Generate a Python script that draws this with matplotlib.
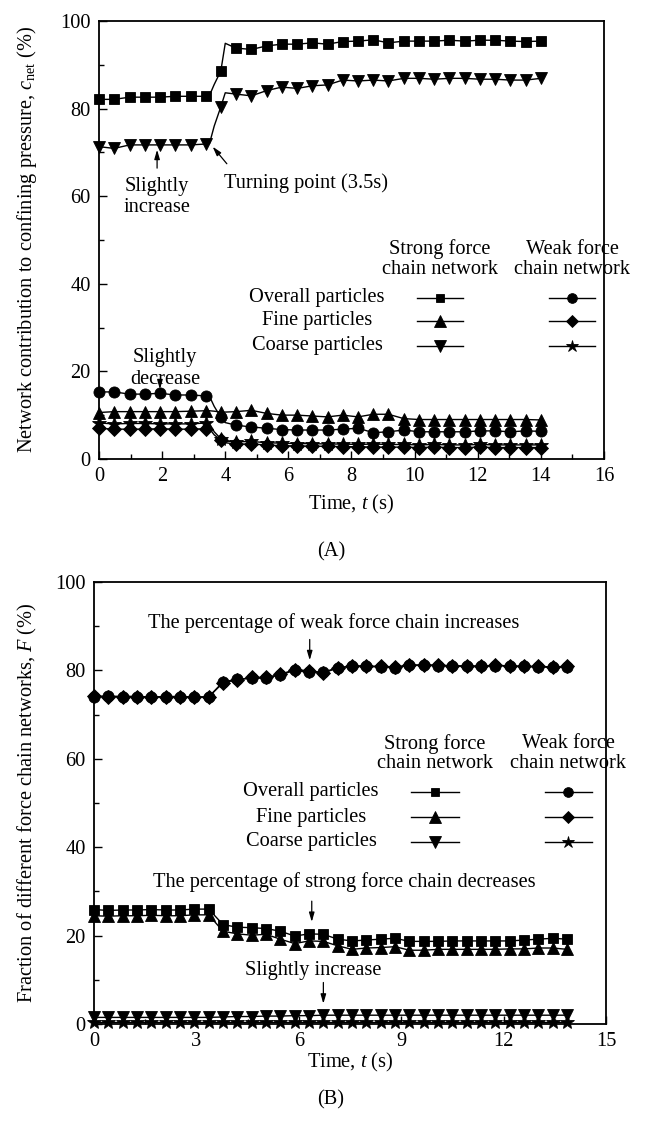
import matplotlib
matplotlib.use("Agg")
import matplotlib.pyplot as plt
from matplotlib.lines import Line2D
from matplotlib.ticker import MultipleLocator

plt.rcParams['font.family'] = 'Liberation Serif'
plt.rcParams['mathtext.fontset'] = 'custom'
plt.rcParams['mathtext.rm'] = 'Liberation Serif'
plt.rcParams['mathtext.it'] = 'Liberation Serif:italic'

# ---- (A) network contribution to confining pressure ----
# extra knots at 3.5, 3.65 and 4.0 s carry the shape of the jump, no markers there
t_a = [0, 0.48, 0.97, 1.45, 1.93, 2.41, 2.9, 3.38, 3.5, 3.65, 3.86, 4.0, 4.34,
       4.83, 5.31, 5.79, 6.28, 6.76, 7.24, 7.72, 8.21, 8.69, 9.17, 9.66, 10.14,
       10.62, 11.1, 11.59, 12.07, 12.55, 13.03, 13.52, 14.0]
knots_a = [8, 9, 11]

overall_strong_a = [82.1, 82.1, 82.6, 82.6, 82.6, 82.8, 82.8, 82.8, 83.0, 85.5, 88.6, 94.9,
                    93.8, 93.5, 94.3, 94.7, 94.7, 95.0, 94.7, 95.3, 95.4, 95.7, 95.0, 95.4,
                    95.4, 95.4, 95.6, 95.4, 95.6, 95.6, 95.4, 95.3, 95.4]
coarse_strong_a = [71.3, 70.9, 71.7, 71.7, 71.7, 71.7, 71.7, 71.9, 72.0, 76.0, 80.4, 83.6,
                   83.3, 82.9, 84.1, 84.9, 84.6, 85.2, 85.4, 86.5, 86.3, 86.5, 86.3, 86.9,
                   86.9, 86.7, 86.9, 86.9, 86.7, 86.7, 86.5, 86.5, 86.9]
fine_strong_a = [10.6, 10.8, 10.8, 10.8, 10.8, 10.8, 10.9, 11.0, 11.0, 10.9, 10.7, 10.7,
                 10.8, 11.1, 10.4, 10.0, 10.0, 9.8, 9.6, 10.0, 9.6, 10.2, 10.2, 9.2,
                 9.0, 9.0, 9.0, 9.0, 9.0, 9.0, 9.0, 9.0, 8.9]
overall_weak_a = [15.3, 15.3, 14.8, 14.8, 15.0, 14.6, 14.6, 14.4, 14.3, 12.0, 9.5, 8.3,
                  7.7, 7.3, 7.0, 6.7, 6.6, 6.6, 6.6, 6.8, 7.0, 6.0, 6.2, 6.6,
                  6.2, 6.2, 6.2, 6.2, 6.4, 6.4, 6.2, 6.4, 6.3]
fine_weak_a = [7.0, 6.8, 6.8, 6.8, 6.9, 6.8, 6.8, 6.9, 6.9, 5.5, 4.3, 3.7,
               3.4, 3.4, 3.2, 3.0, 3.0, 2.9, 2.9, 2.8, 2.8, 2.7, 2.7, 2.7,
               2.6, 2.7, 2.6, 2.6, 2.7, 2.6, 2.6, 2.6, 2.6]
coarse_weak_a = [8.2, 8.0, 8.1, 8.1, 8.0, 8.0, 8.0, 8.2, 8.1, 6.2, 4.6, 4.1,
                 3.9, 4.0, 3.7, 3.6, 3.5, 3.5, 3.4, 3.4, 3.3, 3.4, 3.3, 3.3,
                 3.2, 3.3, 3.2, 3.2, 3.3, 3.2, 3.2, 3.2, 3.2]

# ---- (B) fraction of strong / weak force chain networks ----
t_b = [0, 0.42, 0.84, 1.26, 1.68, 2.1, 2.52, 2.94, 3.36, 3.78, 4.2, 4.62, 5.04,
       5.46, 5.88, 6.3, 6.72, 7.14, 7.56, 7.98, 8.4, 8.82, 9.24, 9.66, 10.08,
       10.5, 10.92, 11.34, 11.76, 12.18, 12.6, 13.02, 13.44, 13.86]

overall_strong_b = [25.9, 25.7, 25.8, 25.8, 25.9, 25.8, 25.8, 26.0, 26.0, 22.5, 21.9, 21.8,
                    21.6, 21.0, 19.9, 20.4, 20.3, 19.2, 18.8, 19.0, 19.2, 19.4, 18.7, 18.7,
                    18.7, 18.8, 18.8, 18.8, 18.8, 18.8, 19.0, 19.2, 19.4, 19.2]
fine_strong_b = [24.5, 24.4, 24.5, 24.5, 24.6, 24.5, 24.5, 24.7, 24.7, 21.0, 20.4, 20.1,
                 20.3, 19.2, 18.2, 18.8, 18.7, 17.7, 16.9, 17.2, 17.3, 17.5, 16.7, 16.7,
                 16.9, 16.9, 16.9, 16.9, 16.9, 17.0, 17.0, 17.2, 17.2, 16.9]
coarse_strong_b = [1.5, 1.5, 1.5, 1.5, 1.5, 1.5, 1.5, 1.5, 1.5, 1.6, 1.7, 1.7,
                   1.8, 1.8, 1.9, 1.9, 2.0, 2.0, 2.0, 2.0, 2.0, 2.0, 2.0, 2.0,
                   2.0, 2.0, 2.0, 2.0, 2.0, 2.0, 2.0, 2.0, 2.0, 2.0]
overall_weak_b = [74.1, 74.2, 74.1, 74.1, 74.0, 74.1, 74.1, 74.0, 74.0, 77.4, 78.0, 78.2,
                  78.3, 79.0, 80.0, 79.6, 79.6, 80.6, 81.0, 80.9, 80.8, 80.6, 81.2, 81.2,
                  81.1, 81.1, 81.0, 81.0, 81.1, 81.0, 80.9, 80.8, 80.7, 80.8]
fine_weak_b = [74.2, 74.0, 74.1, 74.1, 74.0, 74.0, 74.0, 74.0, 74.0, 77.2, 77.9, 78.4,
               78.4, 79.1, 80.2, 79.9, 79.5, 80.5, 81.0, 81.0, 80.9, 80.8, 81.2, 81.2,
               81.2, 81.0, 80.9, 80.9, 81.2, 81.0, 80.9, 80.9, 80.8, 80.9]
coarse_weak_b = [0.5, 0.5, 0.5, 0.5, 0.5, 0.5, 0.5, 0.5, 0.5, 0.5, 0.5, 0.5,
                 0.5, 0.5, 0.5, 0.5, 0.5, 0.5, 0.5, 0.5, 0.5, 0.5, 0.5, 0.5,
                 0.5, 0.5, 0.5, 0.5, 0.5, 0.5, 0.5, 0.5, 0.5, 0.5]

row_labels = ['Overall particles', 'Fine particles', 'Coarse particles']
strong_markers = ['s', '^', 'v']
weak_markers = ['o', 'D', '*']
marker_size = {'s': 7.3, '^': 9, 'v': 9, 'o': 8, 'D': 6.8, '*': 10}

FS = 14.7
ARROW = dict(arrowstyle='-|>,head_length=0.55,head_width=0.16', color='k', lw=0.9,
             shrinkA=0, shrinkB=0)

fig = plt.figure(figsize=(6.54, 11.21), dpi=100)
ax1 = fig.add_axes([0.1514, 0.5906, 0.7721, 0.3907])
ax2 = fig.add_axes([0.1437, 0.0865, 0.7829, 0.3943])


def draw_series(ax, t, y, m, every=None):
    ax.plot(t, y, color='k', lw=1.0, marker=m, ms=marker_size[m], mfc='k', mec='k',
            mew=0.6, markevery=every, clip_on=False, zorder=3)


def style_axes(ax, xmax, xmajor, xminor):
    ax.set_xlim(0, xmax)
    ax.set_ylim(0, 100)
    ax.xaxis.set_major_locator(MultipleLocator(xmajor))
    ax.xaxis.set_minor_locator(MultipleLocator(xminor))
    ax.yaxis.set_major_locator(MultipleLocator(20))
    ax.yaxis.set_minor_locator(MultipleLocator(10))
    ax.tick_params(which='both', direction='in', top=False, right=False,
                   labelsize=FS, width=1.0, pad=6)
    ax.tick_params(which='major', length=6)
    ax.tick_params(which='minor', length=3.5)
    for s in ax.spines.values():
        s.set_linewidth(1.3)
    ax.set_xlabel('Time, $t$ (s)', fontsize=FS)


def draw_key(ax, x_lab, x_strong, x_weak, y_head, rows_y, half):
    ax.text(x_strong, y_head, 'Strong force\nchain network', transform=ax.transAxes,
            ha='center', va='center', fontsize=FS, linespacing=1.05)
    ax.text(x_weak, y_head, 'Weak force\nchain network', transform=ax.transAxes,
            ha='center', va='center', fontsize=FS, linespacing=1.05)
    for lab, ms_, mw_, yy in zip(row_labels, strong_markers, weak_markers, rows_y):
        ax.text(x_lab, yy, lab, transform=ax.transAxes, ha='center', va='center',
                fontsize=FS)
        for xc, m in ((x_strong, ms_), (x_weak, mw_)):
            ax.add_line(Line2D([xc - half, xc + half], [yy, yy], transform=ax.transAxes,
                               color='k', lw=1.0))
            ax.add_line(Line2D([xc], [yy], transform=ax.transAxes, color='k',
                               marker=m, ms=marker_size[m] - 1, mfc='k', mec='k', mew=0.6))


# ---- panel A ----
marks_a = [i for i in range(len(t_a)) if i not in knots_a]
draw_series(ax1, t_a, overall_strong_a, 's', marks_a)
draw_series(ax1, t_a, coarse_strong_a, 'v', marks_a)
draw_series(ax1, t_a, overall_weak_a, 'o', marks_a)
draw_series(ax1, t_a, fine_strong_a, '^', marks_a)
draw_series(ax1, t_a, coarse_weak_a, '*', marks_a)
draw_series(ax1, t_a, fine_weak_a, 'D', marks_a)
style_axes(ax1, 16, 2, 1)
ax1.set_ylabel('Network contribution to confining pressure, $c_{\\rm net}$ (%)',
               fontsize=FS)
ax1.yaxis.set_label_coords(-0.118, 0.5)
ax1.xaxis.set_label_coords(0.5, -0.078)

ax1.text(1.84, 59.8, 'Slightly\nincrease', ha='center', va='center', fontsize=FS,
         linespacing=1.2)
ax1.annotate('', xy=(1.84, 70.6), xytext=(1.84, 66.4), arrowprops=ARROW)
ax1.text(6.55, 63.0, 'Turning point (3.5s)', ha='center', va='center', fontsize=FS)
ax1.annotate('', xy=(3.6, 71.3), xytext=(4.05, 67.4), arrowprops=ARROW)
ax1.text(2.1, 20.6, 'Slightly\ndecrease', ha='center', va='center', fontsize=FS,
         linespacing=1.2)
ax1.annotate('', xy=(1.93, 15.9), xytext=(1.93, 17.8), arrowprops=ARROW)

draw_key(ax1, 0.432, 0.675, 0.937, 0.456, [0.368, 0.315, 0.258], 0.046)

fig.text(0.506, 1 - 552 / 1121, '(A)', ha='center', va='center', fontsize=FS)

# ---- panel B ----
draw_series(ax2, t_b, overall_weak_b, 'o')
draw_series(ax2, t_b, fine_weak_b, 'D')
draw_series(ax2, t_b, overall_strong_b, 's')
draw_series(ax2, t_b, fine_strong_b, '^')
draw_series(ax2, t_b, coarse_weak_b, '*')
draw_series(ax2, t_b, coarse_strong_b, 'v')
style_axes(ax2, 15, 3, 1.5)
ax2.set_ylabel('Fraction of different force chain networks, $F$ (%)', fontsize=FS)
ax2.yaxis.set_label_coords(-0.107, 0.5)
ax2.xaxis.set_label_coords(0.5, -0.062)

ax2.text(7.03, 90.7, 'The percentage of weak force chain increases', ha='center',
         va='center', fontsize=FS)
ax2.annotate('', xy=(6.32, 82.3), xytext=(6.32, 87.0), arrowprops=ARROW)
ax2.text(7.34, 32.2, 'The percentage of strong force chain decreases', ha='center',
         va='center', fontsize=FS)
ax2.annotate('', xy=(6.38, 23.1), xytext=(6.38, 27.8), arrowprops=ARROW)
ax2.text(6.43, 12.2, 'Slightly increase', ha='center', va='center', fontsize=FS)
ax2.annotate('', xy=(6.72, 4.6), xytext=(6.72, 9.4), arrowprops=ARROW)

draw_key(ax2, 0.424, 0.666, 0.926, 0.612, [0.525, 0.468, 0.412], 0.046)

fig.text(0.506, 1 - 1100 / 1121, '(B)', ha='center', va='center', fontsize=FS)

fig.savefig('out.png', dpi=100)
